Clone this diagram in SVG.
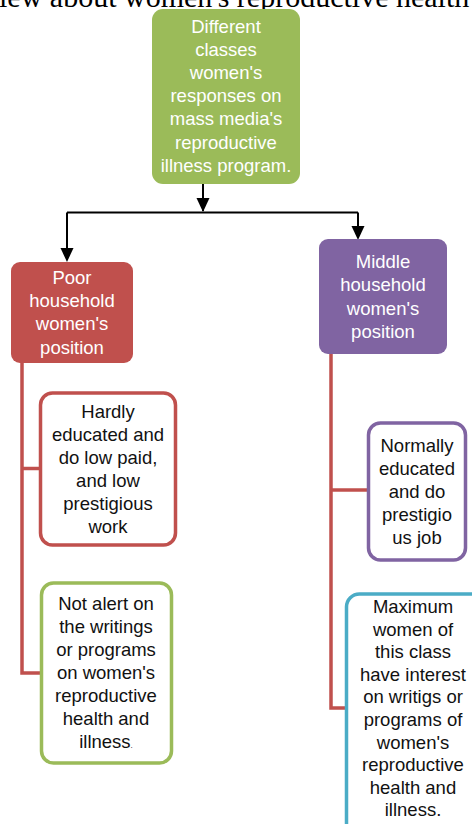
<svg xmlns="http://www.w3.org/2000/svg" width="472" height="824" viewBox="0 0 472 824">
<style>
.t{font-family:"Liberation Sans",Arial,sans-serif;font-size:18.5px;text-anchor:middle}
.w{fill:#ffffff}
.k{fill:#111111}
.box{stroke-width:3.5;fill:#ffffff}
.conn{fill:none;stroke:#000000;stroke-width:2}
.red{fill:none;stroke:#C0504D;stroke-width:3.5}
</style>
<defs>
<marker id="ah" markerUnits="userSpaceOnUse" markerWidth="14" markerHeight="14" viewBox="0 0 14 14" refX="7" refY="13" orient="auto-start-reverse">
<path d="M0,0 L14,0 L7,13 Z" fill="#000"/>
</marker>
</defs>
<text x="-1" y="7" font-family="Liberation Serif,Times New Roman,serif" font-size="30" fill="#000">iew about women's reproductive health</text>
<g id="connectors">
<path class="conn" d="M203,184 V211"/>
<path d="M196.5,198 L209.5,198 L203,212 Z" fill="#000"/>
<path class="conn" d="M67,212.5 H358"/>
<path class="conn" d="M67,212.5 V250"/>
<path d="M60.5,248 L73.5,248 L67,262 Z" fill="#000"/>
<path class="conn" d="M358,212.5 V230"/>
<path d="M351.5,226 L364.5,226 L358,240 Z" fill="#000"/>
<path class="red" d="M22,363 V673 H41"/>
<path class="red" d="M22,468.5 H40"/>
<path class="red" d="M331,354 V708 H346"/>
<path class="red" d="M331,490 H368"/>
</g>
<g id="root">
<rect x="152" y="9" width="148" height="175" rx="11" fill="#9BBB59"/>
<text class="t w" x="226" y="33"><tspan x="226">Different</tspan><tspan x="226" dy="23.1">classes</tspan><tspan x="226" dy="23.1">women's</tspan><tspan x="226" dy="23.1">responses on</tspan><tspan x="226" dy="23.1">mass media's</tspan><tspan x="226" dy="23.1">reproductive</tspan><tspan x="226" dy="23.1">illness program.</tspan></text>
</g>
<g id="poor">
<rect x="11" y="262" width="122" height="101" rx="9" fill="#C0504D"/>
<text class="t w" x="72" y="284"><tspan x="72">Poor</tspan><tspan x="72" dy="23.2">household</tspan><tspan x="72" dy="23.2">women's</tspan><tspan x="72" dy="23.2">position</tspan></text>
</g>
<g id="middle">
<rect x="319" y="239" width="128" height="115" rx="9" fill="#8064A2"/>
<text class="t w" x="383" y="268"><tspan x="383">Middle</tspan><tspan x="383" dy="23.3">household</tspan><tspan x="383" dy="23.3">women's</tspan><tspan x="383" dy="23.3">position</tspan></text>
</g>
<g id="hardly">
<rect class="box" x="40.5" y="393" width="135" height="152" rx="12" stroke="#C0504D"/>
<text class="t k" x="108" y="418"><tspan x="108">Hardly</tspan><tspan x="108" dy="23">educated and</tspan><tspan x="108" dy="23">do low paid,</tspan><tspan x="108" dy="23">and low</tspan><tspan x="108" dy="23">prestigious</tspan><tspan x="108" dy="23">work</tspan></text>
</g>
<g id="normally">
<rect class="box" x="368.5" y="423" width="97" height="137" rx="12" stroke="#8064A2"/>
<text class="t k" x="417" y="451.5"><tspan x="417">Normally</tspan><tspan x="417" dy="23">educated</tspan><tspan x="417" dy="23">and do</tspan><tspan x="417" dy="23">prestigio</tspan><tspan x="417" dy="23">us job</tspan></text>
</g>
<g id="notalert">
<rect class="box" x="41.5" y="583" width="130" height="180" rx="12" stroke="#9BBB59"/>
<text class="t k" x="106" y="610"><tspan x="106">Not alert on</tspan><tspan x="106" dy="23">the writings</tspan><tspan x="106" dy="23">or programs</tspan><tspan x="106" dy="23">on women's</tspan><tspan x="106" dy="23">reproductive</tspan><tspan x="106" dy="23">health and</tspan><tspan x="106" dy="23">illness<tspan font-size="8">.</tspan></tspan></text>
</g>
<g id="maximum">
<rect class="box" x="346.5" y="594" width="140" height="245" rx="13" stroke="#4BACC6"/>
<text class="t k" x="413" y="613"><tspan x="413">Maximum</tspan><tspan x="413" dy="22.6">women of</tspan><tspan x="413" dy="22.6">this class</tspan><tspan x="413" dy="22.6">have interest</tspan><tspan x="413" dy="22.6">on writigs or</tspan><tspan x="413" dy="22.6">programs of</tspan><tspan x="413" dy="22.6">women's</tspan><tspan x="413" dy="22.6">reproductive</tspan><tspan x="413" dy="22.6">health and</tspan><tspan x="413" dy="22.6">illness.</tspan></text>
</g>
</svg>
